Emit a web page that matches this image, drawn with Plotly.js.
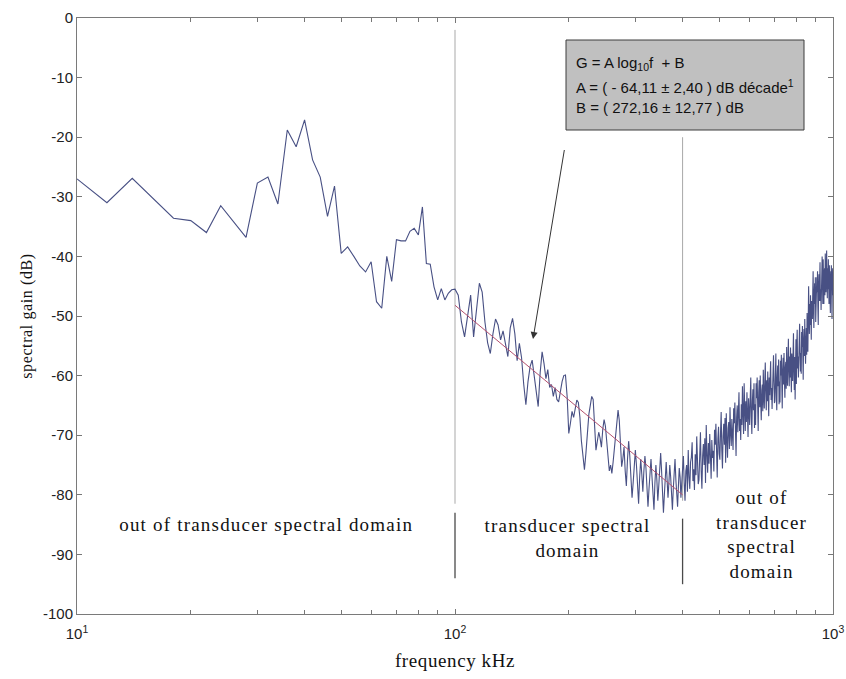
<!DOCTYPE html>
<html>
<head>
<meta charset="utf-8">
<script src="https://cdn.plot.ly/plotly-3.0.1.min.js"></script>
<style>html,body{margin:0;padding:0;background:#fff}</style>
</head>
<body>
<div id="chart" style="width:846px;height:679px"></div>
<script>
// Spectral gain (dB) sampled every 2 kHz.
const freqStep = 2;

// 10 .. 100 kHz
const freqStartLow = 10;
const gainLow = [
  -27.0,-31.0,-26.9,-30.4,-33.6,-34.0,-36.0,-31.5,-34.3,-36.8,
  -27.7,-26.7,-31.2,-18.8,-21.6,-17.1,-23.8,-26.7,-33.3,-28.2,
  -39.5,-38.4,-40.0,-41.6,-42.6,-40.9,-47.6,-48.7,-40.0,-44.2,
  -37.2,-37.4,-37.4,-35.8,-35.3,-36.4,-31.7,-41.2,-41.3,-45.1,
  -47.3,-45.4,-47.3,-46.2,-45.6,-45.5
];

// 102 .. 400 kHz
const freqStartMid = 102;
const gainMid = [
  -46.5,-51.0,-53.5,-50.0,-46.5,-53.5,-49.0,-44.5,-46.0,-51.0,
  -54.5,-56.3,-53.0,-50.5,-51.5,-54.0,-52.5,-55.0,-56.8,-52.0,
  -50.4,-53.0,-57.5,-54.6,-57.0,-61.5,-64.9,-61.0,-58.5,-57.4,
  -60.0,-63.0,-65.2,-59.5,-56.0,-58.0,-60.5,-59.0,-62.0,-61.5,
  -63.5,-62.0,-64.0,-64.4,-62.5,-61.0,-60.0,-59.9,-63.5,-69.7,
  -68.0,-66.0,-67.0,-65.5,-64.1,-64.5,-67.0,-71.0,-74.0,-75.8,
  -73.0,-69.0,-66.5,-65.0,-63.5,-64.0,-68.0,-72.5,-71.0,-69.5,
  -70.5,-72.0,-69.0,-67.4,-68.5,-71.0,-74.0,-76.0,-75.0,-76.4,
  -74.5,-72.0,-70.0,-68.0,-65.8,-67.5,-71.5,-75.3,-74.0,-72.0,
  -76.0,-78.5,-74.0,-71.0,-73.5,-77.0,-80.5,-78.0,-74.5,-72.5,
  -75.0,-79.0,-81.5,-77.0,-74.0,-76.5,-79.5,-76.0,-73.5,-75.5,
  -78.5,-82.0,-79.0,-75.5,-74.0,-77.0,-80.5,-82.5,-78.0,-75.0,
  -77.5,-81.0,-78.5,-75.5,-73.0,-76.0,-79.5,-83.0,-80.0,-76.5,
  -74.5,-77.5,-80.5,-78.0,-75.0,-77.0,-81.0,-82.5,-79.0,-76.0,
  -74.0,-77.5,-80.0,-82.0,-78.5,-75.5,-77.0,-80.5,-78.0,-76.0
];

// 402 .. 1000 kHz
const freqStartHigh = 402;
const gainHigh = [
  -73.5,-78.0,-81.0,-76.0,-75.0,-79.5,-72.5,-77.0,-79.0,-74.5,
  -73.7,-71.2,-77.7,-75.7,-79.2,-73.2,-76.7,-70.2,-74.7,-78.2,
  -77.5,-73.0,-69.5,-76.0,-79.0,-73.5,-71.5,-75.0,-70.5,-78.0,
  -68.3,-73.3,-76.3,-71.3,-74.8,-69.8,-72.3,-77.3,-70.8,-73.8,
  -72.6,-76.1,-69.1,-71.6,-68.1,-74.1,-77.1,-70.6,-68.6,-73.1,
  -74.1,-69.6,-66.1,-72.6,-75.6,-70.1,-68.1,-71.6,-67.1,-74.6,
  -66.3,-70.8,-73.8,-68.8,-67.8,-72.3,-65.3,-69.8,-71.8,-67.3,
  -69.0,-72.5,-65.5,-68.0,-64.5,-70.5,-73.5,-67.0,-65.0,-69.5,
  -65.3,-62.8,-69.3,-67.3,-70.8,-64.8,-68.3,-61.8,-66.3,-69.8,
  -61.3,-66.3,-69.3,-64.3,-67.8,-62.8,-65.3,-70.3,-63.8,-66.8,
  -68.3,-63.8,-60.3,-66.8,-69.8,-64.3,-62.3,-65.8,-61.3,-68.8,
  -64.8,-68.3,-61.3,-63.8,-60.3,-66.3,-69.3,-62.8,-60.8,-65.3,
  -60.0,-64.5,-67.5,-62.5,-61.5,-66.0,-59.0,-63.5,-65.5,-61.0,
  -57.8,-62.8,-65.8,-60.8,-64.3,-59.3,-61.8,-66.8,-60.3,-63.3,
  -60.1,-57.6,-64.1,-62.1,-65.6,-59.6,-63.1,-56.6,-61.1,-64.6,
  -64.3,-59.8,-56.3,-62.8,-65.8,-60.3,-58.3,-61.8,-57.3,-64.8,
  -61.0,-64.5,-57.5,-60.0,-56.5,-62.5,-65.5,-59.0,-57.0,-61.5,
  -56.2,-60.7,-63.7,-58.7,-57.7,-62.2,-55.2,-59.7,-61.7,-57.2,
  -53.8,-58.8,-61.8,-56.8,-60.3,-55.3,-57.8,-62.8,-56.3,-59.3,
  -60.9,-56.4,-52.9,-59.4,-62.4,-56.9,-64.0,-58.4,-53.9,-61.4,
  -54.8,-52.3,-58.8,-56.8,-60.3,-54.3,-57.8,-51.3,-55.8,-59.3,
  -56.2,-59.7,-52.7,-55.2,-51.7,-57.7,-60.7,-54.2,-52.2,-56.7,
  -50.5,-55.0,-58.0,-53.0,-52.0,-56.5,-49.5,-54.0,-56.0,-51.5,
  -45.0,-50.0,-53.0,-48.0,-51.5,-46.5,-49.0,-54.0,-47.5,-50.5,
  -50.5,-46.0,-42.5,-49.0,-52.0,-46.5,-44.5,-48.0,-43.5,-51.0,
  -47.0,-50.5,-43.5,-46.0,-42.5,-48.5,-51.5,-45.0,-43.0,-47.5,
  -43.5,-41.0,-47.5,-45.5,-49.0,-43.0,-46.5,-40.0,-44.5,-48.0,
  -40.5,-45.0,-48.0,-43.0,-42.0,-46.5,-39.5,-44.0,-46.0,-41.5,
  -39.0,-44.0,-47.0,-42.0,-45.5,-40.5,-43.0,-48.0,-41.5,-44.5,
  -46.0,-49.5,-42.5,-45.0,-41.5,-47.5,-50.5,-44.0,-42.0,-46.5
];

// Regression line over the transducer band
const fitFreq = [100, 400];
const fitGain = [-48.2, -80.0];

// Band limits (kHz) and the extents of their guide lines (dB)
const bandLimits = [100, 400];
const guideTop = [-2, -20];
const guideBottom = [-81.5, -81.0];
const markTop = [-83, -84];
const markBottom = [-94, -95];

// Axis ticks
const xTickVals = [10, 100, 1000];
const xTickText = ['10<sup>1</sup>', '10<sup>2</sup>', '10<sup>3</sup>'];
const xMinorVals = [20, 30, 40, 50, 60, 70, 80, 90, 200, 300, 400, 500, 600, 700, 800, 900];
const yTickVals = [0, -10, -20, -30, -40, -50, -60, -70, -80, -90, -100];
const yTickText = ['0', '-10', '-20', '-30', '-40', '-50', '-60', '-70', '-80', '-90', '-100'];

// Text
const regionLabels = [
  'out of transducer spectral domain',
  'transducer spectral<br>domain',
  'out of<br>transducer<br>spectral<br>domain'
];
const fitLines = [
  'G = A log<sub>10</sub>f \u00a0+ B',
  'A = ( - 64,11 \u00b1 2,40 ) dB d\u00e9cade<sup>1</sup>',
  'B = ( 272,16 \u00b1 12,77 ) dB'
];

function sampleFreqs(start, n) {
  const out = [];
  for (let i = 0; i < n; i++) out.push(start + i * freqStep);
  return out;
}

const freq = [].concat(
  sampleFreqs(freqStartLow, gainLow.length),
  sampleFreqs(freqStartMid, gainMid.length),
  sampleFreqs(freqStartHigh, gainHigh.length)
);
const gain = [].concat(gainLow, gainMid, gainHigh);

const traces = [];

// Band guide lines (behind the data)
bandLimits.forEach((f, i) => {
  traces.push({
    x: [f, f], y: [guideTop[i], guideBottom[i]], mode: 'lines',
    line: {color: '#a9a9a9', width: 1}, hoverinfo: 'skip', showlegend: false
  });
  traces.push({
    x: [f, f], y: [markTop[i], markBottom[i]], mode: 'lines',
    line: {color: '#4a4a4a', width: 1.3}, hoverinfo: 'skip', showlegend: false
  });
});

traces.push({
  x: freq, y: gain, mode: 'lines',
  line: {color: 'rgb(72,80,132)', width: 1.1},
  showlegend: false
});

traces.push({
  x: fitFreq, y: fitGain, mode: 'lines',
  line: {color: '#b4506e', width: 1},
  showlegend: false
});

// Plot area in pixels: x 77..833, y 18..614
const PL = 77, PR = 833, PT = 18, PB = 614;
const px = v => (v - PL) / (PR - PL);
const py = v => (PB - v) / (PB - PT);

const serif = 'Liberation Serif, Times New Roman, serif';
const sans = 'Liberation Sans, Arial, sans-serif';

const annotations = [
  {text: regionLabels[0], x: px(266), y: py(524)},
  {text: regionLabels[1], x: px(567), y: py(538)},
  {text: regionLabels[2], x: px(762), y: py(534)}
].map(a => Object.assign({
  xref: 'paper', yref: 'paper', showarrow: false,
  xanchor: 'center', yanchor: 'middle', align: 'center',
  font: {family: serif, size: 19, color: '#111'}
}, a));

[63, 87, 108].forEach((yy, i) => {
  annotations.push({
    text: fitLines[i], xref: 'paper', yref: 'paper',
    x: px(574), y: py(yy), xanchor: 'left', yanchor: 'middle',
    showarrow: false, align: 'left',
    font: {family: sans, size: 15, color: '#111'}
  });
});

// Arrow from the fit box to the regression line
annotations.push({
  text: ' ', xref: 'paper', yref: 'paper',
  x: px(533), y: py(339), ax: 33, ay: -199,
  showarrow: true, arrowhead: 2, arrowsize: 1.4, arrowwidth: 1,
  arrowcolor: '#333'
});

const layout = {
  width: 846, height: 679,
  margin: {l: 77, r: 13, t: 18, b: 65},
  paper_bgcolor: '#fff', plot_bgcolor: '#fff',
  showlegend: false,
  xaxis: {
    type: 'log', range: [1, 3],
    tickmode: 'array', tickvals: xTickVals, ticktext: xTickText,
    ticks: 'inside', ticklen: 5, tickcolor: '#777',
    minor: {tickmode: 'array', tickvals: xMinorVals, ticks: 'inside', ticklen: 4, tickcolor: '#777', showgrid: false},
    showline: true, linecolor: '#7a7a7a', linewidth: 1, mirror: 'ticks',
    showgrid: false, zeroline: false,
    ticklabelstandoff: 6,
    tickfont: {family: sans, size: 15, color: '#222'},
    title: {text: 'frequency kHz', font: {family: serif, size: 19, color: '#111'}, standoff: 12}
  },
  yaxis: {
    range: [-100, 0],
    tickmode: 'array', tickvals: yTickVals, ticktext: yTickText,
    ticks: 'inside', ticklen: 5, tickcolor: '#777',
    showline: true, linecolor: '#7a7a7a', linewidth: 1, mirror: 'ticks',
    showgrid: false, zeroline: false,
    tickfont: {family: sans, size: 15, color: '#222'},
    title: {text: 'spectral gain (dB)', font: {family: serif, size: 16, color: '#111'}, standoff: 6}
  },
  shapes: [{
    type: 'rect', xref: 'paper', yref: 'paper',
    x0: px(566), x1: px(804), y0: py(130), y1: py(40),
    fillcolor: '#c0c0c0', line: {color: '#3c3c3c', width: 1}, layer: 'above'
  }],
  annotations: annotations
};

Plotly.newPlot('chart', traces, layout, {staticPlot: true, displayModeBar: false}).then(() => {
  document.querySelectorAll('.annotation-text').forEach(t => {
    if ((t.style.fontFamily || '').indexOf('Serif') >= 0) t.style.letterSpacing = '1.2px';
  });
  document.querySelectorAll('.xtitle, .ytitle').forEach(t => { t.style.letterSpacing = '0.6px'; });
});
</script>
</body>
</html>
